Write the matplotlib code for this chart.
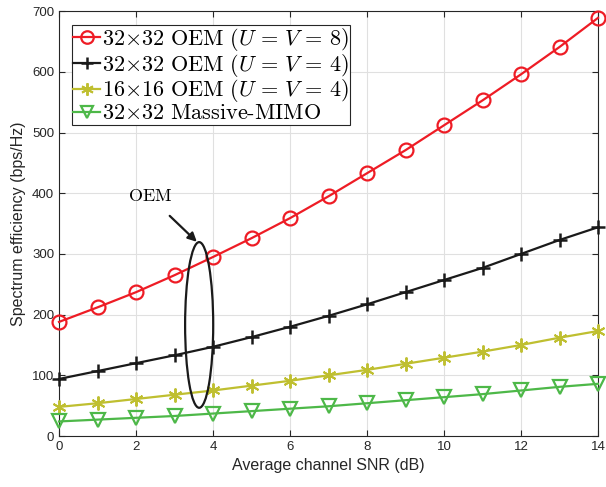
import numpy as np
import matplotlib
matplotlib.use('Agg')
from matplotlib import pyplot as plt
from matplotlib.patches import Ellipse

plt.rcParams['mathtext.fontset'] = 'cm'
plt.rcParams['font.family'] = ['Liberation Sans', 'DejaVu Sans']

# data
snr = np.arange(0, 15)
oem_32_u8 = [188, 212, 237, 265, 295, 326, 359, 395, 433, 471, 512, 553, 596, 641, 689]
oem_32_u4 = [94, 107, 120, 133, 147, 163, 180, 198, 217, 237, 257, 277, 300, 323, 344]
oem_16_u4 = [48, 54, 61, 68, 75, 83, 91, 100, 109, 119, 129, 139, 150, 162, 173]
mimo_32 = [24, 27, 30, 33, 37, 41, 45, 49, 54, 59, 64, 69, 75, 81, 86]

labels = [r'$\mathrm{32{\times}32\ OEM}\ (U\,=\,V\,=\,8)$',
          r'$\mathrm{32{\times}32\ OEM}\ (U\,=\,V\,=\,4)$',
          r'$\mathrm{16{\times}16\ OEM}\ (U\,=\,V\,=\,4)$',
          r'$\mathrm{32{\times}32\ Massive\text{-}MIMO}$']

fig = plt.figure(figsize=(6.06, 4.87), dpi=100)
ax = fig.add_axes([0.0974, 0.1047, 0.8894, 0.8723])

ax.plot(snr, oem_32_u8, color='#ee1c25', lw=1.6, marker='o', ms=10, mfc='none', mew=1.6,
        label=labels[0], clip_on=False, zorder=4)
ax.plot(snr, oem_32_u4, color='#1a1a1a', lw=1.6, marker='+', ms=10, mew=1.8,
        label=labels[1], clip_on=False, zorder=4)
ax.plot(snr, oem_16_u4, color='#bfbf30', lw=1.6, marker=(6, 2, 0), ms=10, mew=1.4,
        label=labels[2], clip_on=False, zorder=4)
ax.plot(snr, mimo_32, color='#4db848', lw=1.6, marker='v', ms=10, mfc='none', mew=1.6,
        label=labels[3], clip_on=False, zorder=4)

# the "OEM" ellipse and arrow
ax.add_patch(Ellipse((3.64, 183), 0.73, 273, fill=False, ec='#1a1a1a', lw=1.6, zorder=5))
ax.annotate(r'$\mathrm{OEM}$', xy=(3.58, 320), xytext=(2.36, 394), fontsize=13,
            ha='center', va='center',
            arrowprops=dict(arrowstyle='-|>', color='#1a1a1a', lw=1.6, shrinkA=8, shrinkB=0))

ax.set_xlim(0, 14)
ax.set_ylim(0, 700)
ax.set_xticks(np.arange(0, 15, 2))
ax.set_yticks(np.arange(0, 701, 100))
ax.grid(True, color='#e0e0e0', lw=0.8)
ax.set_axisbelow(True)
ax.tick_params(direction='in', top=True, right=True, labelsize=9.5, colors='#262626', length=4)
for s in ax.spines.values():
    s.set_color('#262626')
    s.set_linewidth(0.8)

ax.set_xlabel('Average channel SNR (dB)', fontsize=11.5, color='#262626')
ax.set_ylabel('Spectrum efficiency (bps/Hz)', fontsize=11.5, color='#262626')

leg = ax.legend(loc='upper left', fontsize=16, handlelength=1.2, handletextpad=0.1,
                borderpad=0.05, labelspacing=-0.05, borderaxespad=0.6, fancybox=False,
                framealpha=1, markerscale=0.9)
leg.get_frame().set_edgecolor('#262626')
leg.get_frame().set_linewidth(0.8)

fig.savefig('out.png', dpi=100)
